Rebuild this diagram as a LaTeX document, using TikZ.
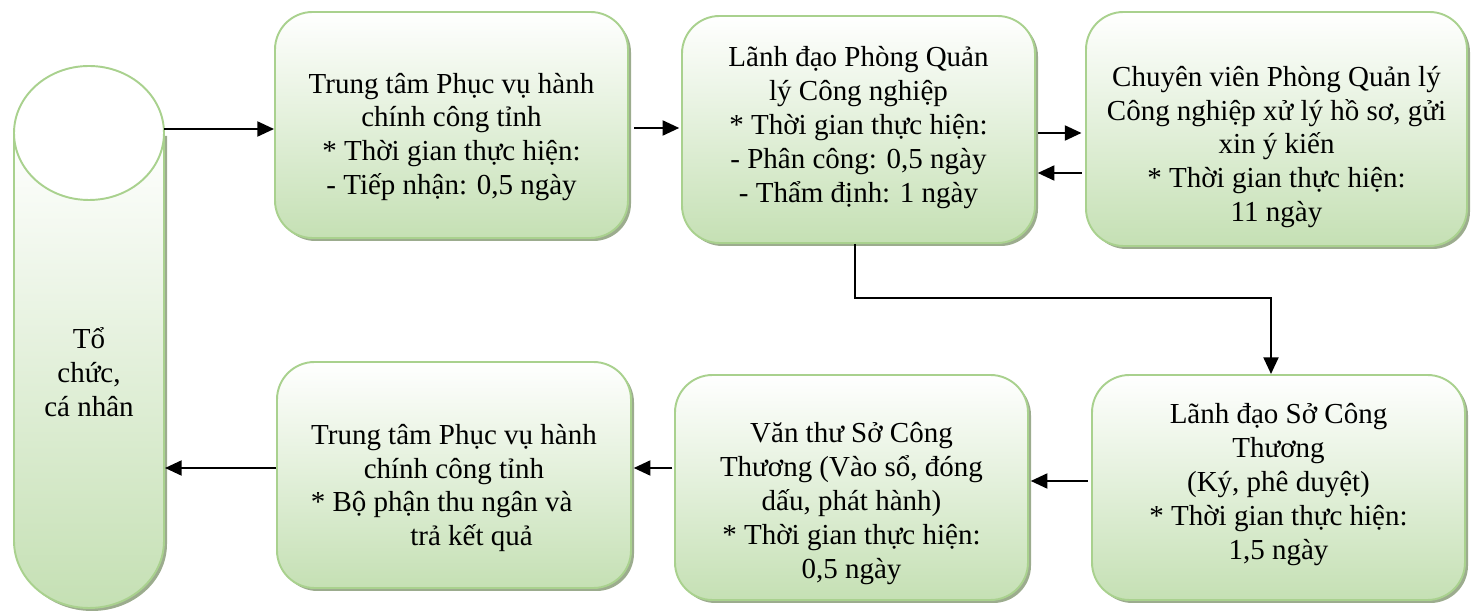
\documentclass[tikz,border=0pt]{standalone}
\usepackage{fontspec}
\setmainfont{Liberation Serif}
\usetikzlibrary{arrows.meta,shadows}
\definecolor{boxline}{HTML}{A9D18E}
\definecolor{boxfill}{HTML}{C5E0B4}
\definecolor{boxshade}{HTML}{9CAC8E}
\begin{document}
\begin{tikzpicture}[
  procbox/.style={draw=boxline, line width=1.1pt, rounded corners=0.75cm,
    top color=white, bottom color=boxfill, inner sep=0pt,
    drop shadow={shadow xshift=0.06cm, shadow yshift=-0.06cm, fill=boxshade, opacity=1}},
  boxtext/.style={align=center, inner sep=0pt, font=\fontsize{16.5}{19.3}\selectfont},
  flow/.style={-{Triangle[length=9.5pt,width=8.5pt]}, line width=1.3pt}]
\useasboundingbox (0,0) rectangle (29.52,-12.28);
% to-chuc, ca nhan (cylinder)
\fill[boxshade] (0.34,-2.72) -- (0.34,-10.88) arc[start angle=180, end angle=360, x radius=1.5, y radius=1.34] -- (3.34,-2.72) -- cycle;
\draw[boxline, line width=1.1pt, top color=white, bottom color=boxfill] (0.28,-2.66) -- (0.28,-10.82) arc[start angle=180, end angle=360, x radius=1.5, y radius=1.34] -- (3.28,-2.66) -- cycle;
\draw[boxline, line width=1.1pt, fill=white] (1.78,-2.66) ellipse[x radius=1.5, y radius=1.34];
\node[boxtext] (org) at (1.78,-7.44) {Tổ\\chức,\\cá nhân};
\coordinate (orgin) at (3.28,-2.58);
\coordinate (orgout) at (3.3,-9.36);
% top row
\node[procbox, minimum width=7.06cm, minimum height=4.52cm] (tiepnhan) at (9.03,-2.5) {};
\node[boxtext] (tiepnhantxt) at ([yshift=-0.24cm]tiepnhan)
  {Trung tâm Phục vụ hành\\chính công tỉnh\\* Thời gian thực hiện:\\- Tiếp nhận: 0,5 ngày};
\node[procbox, minimum width=7.06cm, minimum height=4.54cm] (phong) at (17.17,-2.59) {};
\node[boxtext] (phongtxt) at ([yshift=0.04cm]phong)
  {Lãnh đạo Phòng Quản\\lý Công nghiệp\\* Thời gian thực hiện:\\- Phân công: 0,5 ngày\\- Thẩm định: 1 ngày};
\node[procbox, minimum width=7.62cm, minimum height=4.68cm] (chuyenvien) at (25.53,-2.58) {};
\node[boxtext] (chuyenvientxt) at ([yshift=-0.36cm]chuyenvien)
  {Chuyên viên Phòng Quản lý\\Công nghiệp xử lý hồ sơ, gửi\\xin ý kiến\\* Thời gian thực hiện:\\11 ngày};
% bottom row
\node[procbox, minimum width=7.46cm, minimum height=4.5cm] (so) at (25.57,-9.75) {};
\node[boxtext] (sotxt) at ([yshift=0.06cm]so)
  {Lãnh đạo Sở Công\\Thương\\(Ký, phê duyệt)\\* Thời gian thực hiện:\\1,5 ngày};
\node[procbox, minimum width=7.06cm, minimum height=4.5cm] (vanthu) at (17.03,-9.75) {};
\node[boxtext] (vanthutxt) at ([yshift=-0.32cm]vanthu)
  {Văn thư Sở Công\\Thương (Vào sổ, đóng\\dấu, phát hành)\\* Thời gian thực hiện:\\0,5 ngày};
\node[procbox, minimum width=7.08cm, minimum height=4.52cm] (trakq) at (9.08,-9.5) {};
\node[boxtext] (trakqtxt) at ([yshift=-0.26cm]trakq)
  {Trung tâm Phục vụ hành\\chính công tỉnh\\* Bộ phận thu ngân và\kern14pt\\\kern20pt trả kết quả};
% arrows
\draw[flow] (orgin) -- (orgin -| tiepnhan.west);
\draw[flow, shorten <=3pt, shorten >=1pt] ([yshift=-0.06cm]tiepnhan.east) -- ([yshift=-0.06cm]tiepnhan.east -| phong.west);
\draw[flow, shorten <=1pt, shorten >=2pt] ([yshift=-0.07cm]phong.east) -- ([yshift=-0.07cm]phong.east -| chuyenvien.west);
\draw[flow, shorten <=2pt, shorten >=1pt] ([yshift=-0.88cm]chuyenvien.west) -- ([yshift=-0.88cm]chuyenvien.west -| phong.east);
\coordinate (turn) at (25.42,-5.96);
\draw[flow] ([xshift=-0.07cm]phong.south) |- (turn) -- (turn |- so.north);
\draw[flow, shorten <=2pt, shorten >=1pt] ([yshift=0.13cm]so.west) -- ([yshift=0.13cm]so.west -| vanthu.east);
\draw[flow, shorten <=1pt, shorten >=1pt] ([yshift=0.39cm]vanthu.west) -- ([yshift=0.39cm]vanthu.west -| trakq.east);
\draw[flow] ([yshift=0.14cm]trakq.west) -- (orgout);
\end{tikzpicture}
\end{document}
